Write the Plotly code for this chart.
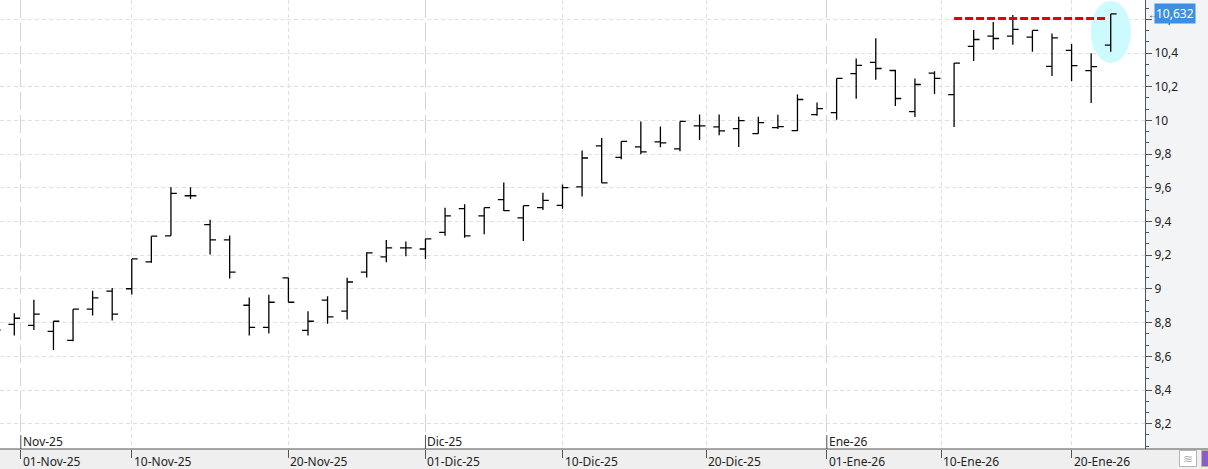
import plotly.graph_objects as go
from datetime import date

# ---------------- data ----------------
dates = [
    "2025-10-30", "2025-10-31",
    "2025-11-03", "2025-11-04", "2025-11-05", "2025-11-06", "2025-11-07",
    "2025-11-10", "2025-11-11", "2025-11-12", "2025-11-13", "2025-11-14",
    "2025-11-17", "2025-11-18", "2025-11-19", "2025-11-20", "2025-11-21",
    "2025-11-24", "2025-11-25", "2025-11-26", "2025-11-27", "2025-11-28",
    "2025-12-01", "2025-12-02", "2025-12-03", "2025-12-04", "2025-12-05",
    "2025-12-08", "2025-12-09", "2025-12-10", "2025-12-11", "2025-12-12",
    "2025-12-15", "2025-12-16", "2025-12-17", "2025-12-18", "2025-12-19",
    "2025-12-22", "2025-12-23", "2025-12-24", "2025-12-29", "2025-12-30",
    "2025-12-31", "2026-01-02",
    "2026-01-05", "2026-01-06", "2026-01-07", "2026-01-08", "2026-01-09",
    "2026-01-12", "2026-01-13", "2026-01-14", "2026-01-15", "2026-01-16",
    "2026-01-19", "2026-01-20", "2026-01-21", "2026-01-22",
]
open_ = [
    8.740, 8.790,
    8.784, 8.748, 8.695, 8.880, 8.987,
    9.001, 9.160, 9.315, 9.553, 9.381,
    9.291, 8.903, 8.772, 9.066, 8.754,
    8.933, 8.868, 9.100, 9.190, 9.243,
    9.237, 9.335, 9.476, 9.434, 9.530,
    9.422, 9.482, 9.496, 9.605, 9.849,
    9.781, 9.843, 9.873, 9.831, 9.968,
    9.962, 9.951, 9.921, 9.957, 9.939,
    10.034, 10.046,
    10.278, 10.344, 10.296, 10.052, 10.280,
    10.153, 10.439, 10.500, 10.500, 10.494,
    10.321, 10.415, 10.295, 10.447,
]
high = [
    8.800, 8.856,
    8.935, 8.808, 8.880, 8.989, 9.005,
    9.178, 9.313, 9.603, 9.603, 9.410,
    9.317, 8.949, 8.965, 9.066, 8.868,
    8.957, 9.066, 9.218, 9.291, 9.281,
    9.297, 9.482, 9.502, 9.482, 9.631,
    9.494, 9.571, 9.619, 9.821, 9.896,
    9.875, 9.994, 9.964, 9.994, 10.035,
    10.035, 10.022, 10.022, 10.034, 10.153,
    10.106, 10.249,
    10.368, 10.487, 10.300, 10.249, 10.292,
    10.340, 10.536, 10.584, 10.626, 10.534,
    10.516, 10.453, 10.399, 10.632,
]
low = [
    8.700, 8.724,
    8.756, 8.637, 8.689, 8.842, 8.812,
    8.967, 9.156, 9.315, 9.534, 9.204,
    9.062, 8.724, 8.736, 8.921, 8.724,
    8.794, 8.818, 9.068, 9.158, 9.194,
    9.178, 9.315, 9.303, 9.325, 9.462,
    9.285, 9.468, 9.476, 9.549, 9.629,
    9.769, 9.799, 9.841, 9.817, 9.883,
    9.912, 9.842, 9.921, 9.949, 9.937,
    10.028, 10.004,
    10.128, 10.241, 10.086, 10.020, 10.157,
    9.961, 10.353, 10.419, 10.449, 10.407,
    10.263, 10.233, 10.104, 10.407,
]
close = [
    8.756, 8.826,
    8.850, 8.808, 8.880, 8.947, 8.850,
    9.178, 9.313, 9.567, 9.553, 9.291,
    9.100, 8.772, 8.921, 8.921, 8.808,
    8.834, 9.041, 9.214, 9.243, 9.243,
    9.297, 9.434, 9.315, 9.482, 9.464,
    9.494, 9.526, 9.601, 9.777, 9.629,
    9.875, 9.813, 9.867, 9.994, 9.968,
    9.938, 9.999, 9.987, 9.963, 10.124,
    10.070, 10.249,
    10.326, 10.308, 10.130, 10.213, 10.249,
    10.340, 10.480, 10.486, 10.540, 10.534,
    10.490, 10.325, 10.319, 10.632,
]
tick_dates = ["2025-11-01", "2025-11-10", "2025-11-20", "2025-12-01", "2025-12-10",
              "2025-12-20", "2026-01-01", "2026-01-10", "2026-01-20"]
month_starts = ["2025-11-01", "2025-12-01", "2026-01-01"]
month_names = {1: "Ene", 11: "Nov", 12: "Dic"}
resistance_level = 10.605
resistance_from, resistance_to = "2026-01-12", "2026-01-22"
last_price_label = "10,632"

# ---------------- helpers ----------------
dd = [date.fromisoformat(s) for s in dates]
idx = list(range(len(dd)))


def pos(ds):
    d = date.fromisoformat(ds)
    for i, t in enumerate(dd):
        if t == d:
            return i
    for i in range(len(dd) - 1):
        if dd[i] < d < dd[i + 1]:
            return i + (d - dd[i]).days / (dd[i + 1] - dd[i]).days
    return None


def lab_day(ds):
    d = date.fromisoformat(ds)
    return f"{d.day:02d}-{month_names[d.month]}-{d.year % 100:02d}"


def lab_month(ds):
    d = date.fromisoformat(ds)
    return f"{month_names[d.month]}-{d.year % 100:02d}"


W, H = 1208, 469
ML, MR, MT, MB = 0, 63, 0, 20
PW, PH = W - ML - MR, H - MT - MB
FONT = "Noto Sans"
TXT = "#222222"
AX = "#555555"

fig = go.Figure()
fig.add_trace(go.Ohlc(
    x=idx, open=open_, high=high, low=low, close=close,
    increasing=dict(line=dict(color="black", width=1.3)),
    decreasing=dict(line=dict(color="black", width=1.3)),
    tickwidth=0.3, hoverinfo="skip", showlegend=False,
))

month_pos = [pos(m) for m in month_starts]
day_pos = [pos(t) for t in tick_dates if t not in month_starts]

shapes = []
annotations = []

# bottom band
shapes.append(dict(type="rect", xref="paper", yref="paper", x0=0, x1=W / PW,
                   y0=-MB / PH, y1=0, fillcolor="#efefef", line=dict(width=0), layer="below"))
# highlight ellipse around last bar
last = len(idx) - 1
shapes.append(dict(type="circle", xref="x", yref="y",
                   x0=last - 1.02, x1=last + 1.03,
                   y0=low[last] - 0.066, y1=high[last] + 0.077,
                   fillcolor="#cdfafd", line=dict(width=0), layer="between"))
# resistance line
shapes.append(dict(type="line", xref="x", yref="y",
                   x0=pos(resistance_from), x1=pos(resistance_to) - 0.15,
                   y0=resistance_level, y1=resistance_level,
                   line=dict(color="#e60000", width=3, dash="8px,3px")))
# x axis line across whole width
shapes.append(dict(type="line", xref="paper", yref="paper", x0=0, x1=W / PW, y0=0, y1=0,
                   line=dict(color=AX, width=1)))
# upward month ticks
for mp in month_pos:
    shapes.append(dict(type="line", xref="x", yref="paper", x0=mp, x1=mp,
                       y0=0, y1=14 / PH, line=dict(color=AX, width=1)))
# small toolbar icons bottom-right
shapes.append(dict(type="rect", xref="paper", yref="paper",
                   x0=1179.5 / PW, x1=1196.5 / PW, y0=-17.5 / PH, y1=-1.5 / PH,
                   fillcolor="white", line=dict(color="#b4b4b4", width=1)))
shapes.append(dict(type="rect", xref="paper", yref="paper",
                   x0=1201.5 / PW, x1=1212 / PW, y0=-17.5 / PH, y1=-1.5 / PH,
                   fillcolor="#8a5cc9", line=dict(color="#b4b4b4", width=1)))
annotations.append(dict(text="≋", xref="paper", yref="paper", x=1188 / PW, y=-9.5 / PH,
                        showarrow=False, font=dict(family=FONT, size=12, color="#b0b0b0"),
                        xanchor="center", yanchor="middle"))

# date labels
for t in tick_dates:
    annotations.append(dict(text=lab_day(t), xref="x", yref="paper", x=pos(t), y=-12 / PH,
                            xanchor="left", yanchor="middle", xshift=0, showarrow=False,
                            font=dict(family=FONT, size=12, color=TXT)))
for m in month_starts:
    annotations.append(dict(text=lab_month(m), xref="x", yref="paper", x=pos(m), y=8 / PH,
                            xanchor="left", yanchor="middle", xshift=0, showarrow=False,
                            font=dict(family=FONT, size=12, color=TXT)))

# last price label
annotations.append(dict(text=last_price_label, xref="paper", yref="y", x=1154 / PW, y=close[-1],
                        xanchor="left", yanchor="middle", showarrow=False,
                        bgcolor="#3d8fe3", borderpad=1,
                        font=dict(family=FONT, size=12, color="white")))
annotations.append(dict(text="←", xref="paper", yref="y", x=1146 / PW, y=close[-1],
                        xanchor="left", yanchor="middle", showarrow=False,
                        font=dict(family=FONT, size=10, color="#444444")))

x_min = 1 - 14.3 / 19.579
x_max = x_min + PW / 19.579

fig.update_layout(
    width=W, height=H,
    margin=dict(l=ML, r=MR, t=MT, b=MB, pad=0),
    paper_bgcolor="#f3f4f6", plot_bgcolor="white",
    separators=",.",
    font=dict(family=FONT, size=12, color=TXT),
    shapes=shapes, annotations=annotations,
    showlegend=False,
    xaxis=dict(
        range=[x_min, x_max], rangeslider=dict(visible=False),
        tickmode="array", tickvals=month_pos, showticklabels=False,
        ticks="outside", ticklen=9, tickcolor=AX, tickwidth=1,
        showgrid=True, gridcolor="#d4d4d4", griddash="18px,5px", gridwidth=1,
        minor=dict(tickmode="array", tickvals=day_pos, ticks="outside", ticklen=8,
                   tickcolor=AX, tickwidth=1, showgrid=True, gridcolor="#e0e0e0",
                   griddash="4px,3px", gridwidth=1),
        zeroline=False, showline=False, fixedrange=True,
    ),
    yaxis=dict(
        range=[8.050, 10.7145], side="right",
        tick0=0, dtick=0.2, ticks="outside", ticklen=6, tickcolor=AX, tickwidth=1,
        showgrid=True, gridcolor="#e0e0e0", griddash="4px,3px", gridwidth=1,
        minor=dict(dtick=0.2 / 3, tick0=0, ticks="outside", ticklen=3, tickcolor=AX,
                   tickwidth=1, showgrid=False),
        showline=True, linecolor=AX, linewidth=1, mirror=False,
        zeroline=False, tickfont=dict(family=FONT, size=12, color=TXT),
        fixedrange=True,
    ),
)

fig.write_html("out.html", config={"displayModeBar": False})
